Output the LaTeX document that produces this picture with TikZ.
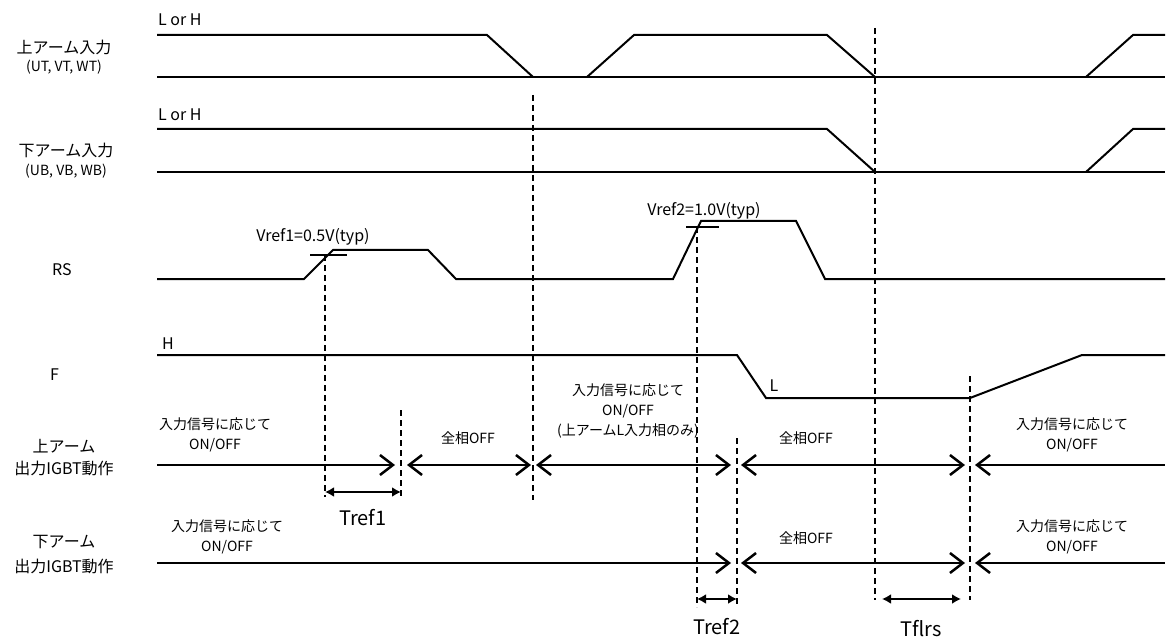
\documentclass[tikz,border=0pt]{standalone}
\usepackage{fontspec}
\setmainfont{Noto Sans CJK JP}
\usetikzlibrary{arrows.meta}
\begin{document}
\begin{tikzpicture}[x=1pt,y=-1pt,
  wave/.style={line width=2pt, line join=miter},
  vdash/.style={line width=2.2pt, dash pattern=on 6pt off 4pt},
  igbt/.style={line width=2.4pt},
  barb/.tip={Straight Barb[length=13pt,width=20pt,line width=2.5pt]},
  dim/.style={line width=2.2pt, {Latex[length=9pt,width=10pt]}-{Latex[length=9pt,width=10pt]}},
  lab/.style={font=\fontsize{16}{18}\selectfont, inner sep=0pt},
  sublab/.style={font=\fontsize{14}{16}\selectfont, inner sep=0pt},
  lvl/.style={font=\fontsize{16}{18}\selectfont, inner sep=0pt},
  note/.style={font=\fontsize{14}{20}\selectfont, inner sep=0pt, align=center},
  tlab/.style={font=\fontsize{20}{22}\selectfont, inner sep=0pt}]
\useasboundingbox (0,0) rectangle (1170,639);

% ---- left labels
\node[lab] (ua) at (64,47) {上アーム入力};
\node[sublab] (uas) at (64,67) {(UT, VT, WT)};
\node[lab] (la) at (66,150) {下アーム入力};
\node[sublab] (las) at (66,171) {(UB, VB, WB)};
\node[lab, anchor=west] (rs) at (52,270) {RS};
\node[lab, anchor=west] (f) at (50,375) {F};
\node[lab] (uo1) at (64,446) {上アーム};
\node[lab] (uo2) at (64,468) {出力IGBT動作};
\node[lab] (lo1) at (64,542) {下アーム};
\node[lab] (lo2) at (64,566) {出力IGBT動作};

% ---- level labels
\node[lvl, anchor=west] (lh1) at (158,20) {L or H};
\node[lvl, anchor=west] (lh2) at (158,115) {L or H};
\node[lvl] (fh) at (168,344) {H};
\node[lvl] (fl) at (774,386) {L};

% ---- upper arm input
\draw[wave] (157,35) -- (487,35) -- (533,77);
\draw[wave] (157,77) -- (1165,77);
\draw[wave] (587,77) -- (634,35) -- (827,35) -- (875,77);
\draw[wave] (1086,77) -- (1133,35) -- (1165,35);

% ---- lower arm input
\draw[wave] (157,129) -- (827,129) -- (875,172);
\draw[wave] (157,172) -- (1165,172);
\draw[wave] (1086,172) -- (1133,129) -- (1165,129);

% ---- RS
\draw[wave] (157,279) -- (304,279) -- (333,250) -- (428,250) -- (456,279)
  -- (673,279) -- (701,221) -- (796,221) -- (825,279) -- (1165,279);
\draw[wave] (310,255) -- (347,255);
\draw[wave] (686,227) -- (719,227);
\node[lvl] (v1) at (313,237) {Vref1=0.5V(typ)};
\node[lvl] (v2) at (704,211) {Vref2=1.0V(typ)};

% ---- F
\draw[wave] (157,355) -- (737,355) -- (766,398) -- (970,398) -- (1082,355) -- (1165,355);

% ---- dashed verticals
\draw[vdash] (325,255) -- (325,497);
\draw[vdash] (401,410) -- (401,497);
\draw[vdash] (533,95) -- (533,500);
\draw[vdash] (697,227) -- (697,607);
\draw[vdash] (737,438) -- (737,604);
\draw[vdash] (875,28) -- (875,600);
\draw[vdash] (970,376) -- (970,600);

% ---- upper arm IGBT
\draw[igbt, -barb] (157,465) -- (395,465);
\draw[igbt, barb-barb] (407,465) -- (531,465);
\draw[igbt, barb-barb] (536,465) -- (731,465);
\draw[igbt, barb-barb] (741,465) -- (965,465);
\draw[igbt, barb-] (975,465) -- (1165,465);

% ---- lower arm IGBT
\draw[igbt, -barb] (157,563) -- (731,563);
\draw[igbt, barb-barb] (741,563) -- (965,563);
\draw[igbt, barb-] (975,563) -- (1165,563);

% ---- notes
\node[note] (n1) at (215,435) {入力信号に応じて\\ON/OFF};
\node[note] (n2) at (468,438) {全相OFF};
\node[note] (n3) at (628,411) {入力信号に応じて\\ON/OFF\\(上アームL入力相のみ)};
\node[note] (n4) at (806,438) {全相OFF};
\node[note] (n5) at (1072,435) {入力信号に応じて\\ON/OFF};
\node[note] (n6) at (227,537) {入力信号に応じて\\ON/OFF};
\node[note] (n7) at (806,538) {全相OFF};
\node[note] (n8) at (1072,537) {入力信号に応じて\\ON/OFF};

% ---- time dimensions
\coordinate (t1a) at (325,492);
\coordinate (t1b) at (401,492);
\coordinate (t2a) at (697,599);
\coordinate (t2b) at (737,599);
\coordinate (t3a) at (882,599);
\coordinate (t3b) at (961,599);
\draw[dim] (t1a) -- (t1b);
\draw[dim] (t2a) -- (t2b);
\draw[dim] (t3a) -- (t3b);
\node[tlab] (tr1) at (363,518) {Tref1};
\node[tlab] (tr2) at (717,627) {Tref2};
\node[tlab] (tr3) at (921,629) {Tflrs};
\end{tikzpicture}
\end{document}
